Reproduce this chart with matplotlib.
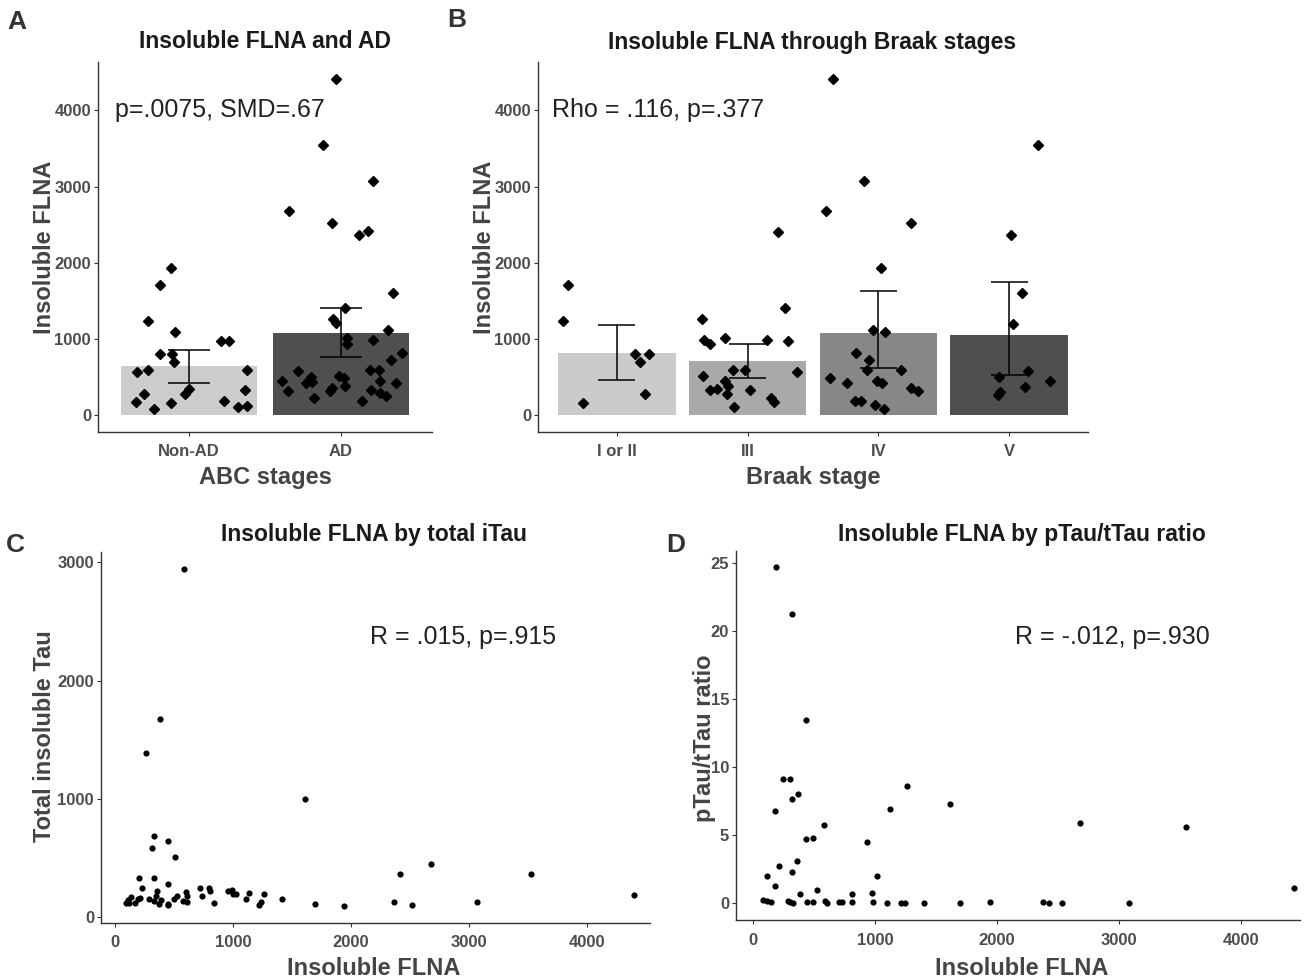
import matplotlib
matplotlib.use("Agg")
import matplotlib.pyplot as plt

plt.rcParams['font.family'] = ['Liberation Sans', 'DejaVu Sans']

# ---- panel A: insoluble FLNA by ABC stage ----
abc_groups = ['Non-AD', 'AD']
abc_means = [643, 1080]
abc_lo = [424, 761]
abc_hi = [857, 1403]
abc_colors = ['#cccccc', '#4f4f4f']

nonad_jit = [-0.12, -0.19, -0.27, -0.09, -0.19, -0.11, -0.10, -0.34, -0.27, 0.21, 0.26,
             0.38, -0.30, -0.35, -0.23, -0.12, -0.03, 0.0, 0.23, 0.32, 0.38, 0.37]
nonad_val = [1937, 1705, 1233, 1093, 809, 809, 699, 568, 599, 975, 975,
             599, 284, 166, 79, 153, 284, 337, 184, 105, 122, 328]
ad_jit = [-0.03, -0.12, 0.21, -0.34, -0.06, 0.12, 0.18, 0.34, 0.03, -0.05, -0.03, 0.31, 0.04,
          0.04, 0.21, 0.40, 0.33, -0.28, -0.39, -0.20, -0.23, -0.19, -0.35, -0.18, -0.06,
          -0.07, -0.01, 0.02, 0.03, 0.19, 0.25, 0.26, 0.36, 0.20, 0.26, 0.30, 0.14]
ad_val = [4415, 3541, 3069, 2680, 2522, 2361, 2413, 1604, 1408, 1268, 1211, 1115, 1019,
          931, 984, 822, 730, 577, 446, 503, 424, 437, 319, 219, 358,
          319, 511, 490, 380, 590, 590, 446, 428, 328, 297, 254, 184]

# ---- panel B: insoluble FLNA by Braak stage ----
braak_groups = ['I or II', 'III', 'IV', 'V']
braak_means = [822, 708, 1080, 1049]
braak_lo = [459, 494, 625, 525]
braak_hi = [1180, 940, 1631, 1749]
braak_colors = ['#cbcbcb', '#a9a9a9', '#878787', '#4f4f4f']

b1_jit = [-0.37, -0.41, 0.14, 0.25, 0.18, -0.26, 0.22]
b1_val = [1705, 1233, 800, 809, 699, 153, 284]
b3_jit = [0.23, 0.29, -0.35, -0.33, -0.29, -0.17, 0.15, 0.31, 0.38, -0.11, -0.02,
          -0.34, -0.17, -0.15, -0.29, -0.23, -0.16, 0.02, 0.18, 0.20, -0.10]
b3_val = [2404, 1408, 1259, 984, 940, 1019, 984, 975, 568, 590, 599,
          511, 446, 385, 328, 341, 284, 328, 219, 175, 109]
b4_jit = [-0.35, -0.11, -0.40, 0.25, 0.02, -0.04, 0.05, -0.17, -0.07, -0.09, 0.17,
          -0.37, -0.24, -0.01, 0.03, 0.25, 0.30, -0.18, -0.13, -0.03, 0.04]
b4_val = [4415, 3069, 2680, 2522, 1937, 1115, 1093, 822, 730, 590, 599,
          490, 428, 446, 428, 358, 319, 184, 184, 131, 79]
b5_jit = [0.22, 0.01, 0.10, 0.03, 0.14, -0.08, 0.31, 0.12, -0.07, -0.09]
b5_val = [3541, 2361, 1604, 1202, 577, 503, 446, 372, 306, 262]

# ---- panel C: FLNA vs total insoluble tau ----
c_flna = [584, 377, 265, 1614, 334, 453, 312, 508, 2680, 2415, 3529, 4399, 199, 334,
          228, 453, 355, 345, 290, 326, 392, 373, 453, 446, 500, 529, 602, 609, 573,
          609, 718, 736, 799, 805, 838, 954, 990, 997, 1026, 1106, 1135, 1218, 1240,
          1262, 1414, 1697, 1937, 2368, 2520, 3068, 91, 120, 138, 167, 192, 210, 112]
c_tau = [2944, 1676, 1389, 1000, 685, 642, 586, 510, 445, 361, 361, 186, 327, 327,
         242, 282, 220, 177, 149, 135, 141, 113, 101, 107, 155, 177, 214, 177, 135,
         130, 242, 177, 242, 220, 121, 220, 225, 192, 192, 149, 206, 101, 130,
         197, 149, 113, 93, 130, 101, 130, 121, 121, 169, 121, 149, 163, 141]

# ---- panel D: FLNA vs pTau/tTau ratio ----
d_flna = [188, 320, 438, 247, 303, 369, 320, 181, 581, 438, 494, 939, 1263, 1123, 1617,
          2685, 3548, 4438, 216, 118, 323, 362, 177, 522, 390, 810, 977, 1019, 83, 118,
          146, 285, 303, 330, 442, 490, 591, 609, 703, 727, 810, 988, 1103, 1214, 1245,
          1405, 1701, 1941, 2376, 2424, 2536, 3082]
d_ratio = [24.7, 21.3, 13.5, 9.1, 9.1, 8.0, 7.7, 6.8, 5.75, 4.7, 4.8, 4.5, 8.6, 6.9, 7.3,
           5.9, 5.6, 1.1, 2.77, 1.98, 2.28, 3.09, 1.25, 1.0, 0.69, 0.69, 0.76, 1.98, 0.24,
           0.15, 0.07, 0.2, 0.07, 0.02, 0.12, 0.12, 0.2, 0.02, 0.12, 0.12, 0.07, 0.07, 0.0,
           0.0, 0.0, 0.02, 0.0, 0.07, 0.07, 0.0, 0.0, 0.0]

AXIS_COL = '#333333'
TICK_COL = '#4d4d4d'
LABEL_COL = '#444444'


def style_axes(ax):
    for side in ['top', 'right']:
        ax.spines[side].set_visible(False)
    for side in ['left', 'bottom']:
        ax.spines[side].set_color(AXIS_COL)
        ax.spines[side].set_linewidth(1.0)
    ax.tick_params(length=3, width=0.8, color=AXIS_COL, labelcolor=TICK_COL, labelsize=12)
    ax.tick_params(axis='x', pad=6)
    ax.tick_params(axis='y', pad=2)
    for lbl in ax.get_xticklabels() + ax.get_yticklabels():
        lbl.set_fontweight('bold')


def bar_panel(ax, groups, means, lo, hi, colors, points):
    pos = list(range(len(groups)))
    ax.bar(pos, means, width=0.9, color=colors, zorder=1)
    ax.vlines(pos, lo, hi, color='black', lw=1.1, zorder=2)
    cap = 0.14
    for p, l, h in zip(pos, lo, hi):
        ax.hlines([l, h], p - cap, p + cap, color='black', lw=1.1, zorder=2)
    for p, (jit, vals) in zip(pos, points):
        ax.plot([p + j for j in jit], vals, 'D', color='black', ms=5, zorder=3)
    ax.set_xticks(pos)
    ax.set_xticklabels(groups)
    ax.set_yticks([0, 1000, 2000, 3000, 4000])
    ax.set_xlim(-0.6, len(groups) - 0.4)
    ax.set_ylim(-221, 4636)


def labels(ax, xlab, ylab, xpos, ypos):
    ax.set_xlabel(xlab, fontsize=17, fontweight='bold', color=LABEL_COL)
    ax.set_ylabel(ylab, fontsize=17, fontweight='bold', color=LABEL_COL)
    ax.xaxis.set_label_coords(*xpos)
    ax.yaxis.set_label_coords(*ypos)


fig = plt.figure(figsize=(13.1, 9.8), dpi=100)

axA = fig.add_axes([0.0748, 0.5592, 0.255, 0.3776])
bar_panel(axA, abc_groups, abc_means, abc_lo, abc_hi, abc_colors,
          [(nonad_jit, nonad_val), (ad_jit, ad_val)])
axA.text(-0.487, 4000, 'p=.0075, SMD=.67', fontsize=18, va='center', ha='left', color='#222222')
labels(axA, 'ABC stages', 'Insoluble FLNA', (0.5, -0.092), (-0.126, 0.5))
style_axes(axA)

axB = fig.add_axes([0.4107, 0.5592, 0.4198, 0.3776])
bar_panel(axB, braak_groups, braak_means, braak_lo, braak_hi, braak_colors,
          [(b1_jit, b1_val), (b3_jit, b3_val), (b4_jit, b4_val), (b5_jit, b5_val)])
axB.text(-0.496, 4000, 'Rho = .116, p=.377', fontsize=18, va='center', ha='left', color='#222222')
labels(axB, 'Braak stage', 'Insoluble FLNA', (0.5, -0.092), (-0.076, 0.5))
style_axes(axB)

axC = fig.add_axes([0.0771, 0.0582, 0.4191, 0.3786])
axC.scatter(c_flna, c_tau, s=20, color='black', linewidths=0)
axC.set_xlim(-119, 4534)
axC.set_ylim(-50, 3087)
axC.set_xticks([0, 1000, 2000, 3000, 4000])
axC.set_yticks([0, 1000, 2000, 3000])
axC.text(2161, 2367, 'R = .015, p=.915', fontsize=18, va='center', ha='left', color='#222222')
labels(axC, 'Insoluble FLNA', 'Total insoluble Tau', (0.497, -0.092), (-0.082, 0.504))
style_axes(axC)

axD = fig.add_axes([0.5618, 0.0612, 0.4305, 0.3765])
axD.scatter(d_flna, d_ratio, s=20, color='black', linewidths=0)
axD.set_xlim(-139, 4484)
axD.set_ylim(-1.235, 25.9)
axD.set_xticks([0, 1000, 2000, 3000, 4000])
axD.set_yticks([0, 5, 10, 15, 20, 25])
axD.text(2148, 19.6, 'R = -.012, p=.930', fontsize=18, va='center', ha='left', color='#222222')
labels(axD, 'Insoluble FLNA', 'pTau/tTau ratio', (0.507, -0.1), (-0.0355, 0.493))
style_axes(axD)

# panel titles and letters
titles = [('Insoluble FLNA and AD', 265, 42), ('Insoluble FLNA through Braak stages', 812, 42),
          ('Insoluble FLNA by total iTau', 374, 535), ('Insoluble FLNA by pTau/tTau ratio', 1022, 535)]
for txt, x, y in titles:
    fig.text(x / 1310, 1 - y / 980, txt, fontsize=16.5, fontweight='bold', ha='center', va='center',
             color='#1a1a1a')

letters = [('A', 17, 22), ('B', 457, 20), ('C', 15, 545), ('D', 676, 545)]
for txt, x, y in letters:
    fig.text(x / 1310, 1 - y / 980, txt, fontsize=19, fontweight='bold', ha='center', va='center',
             color='#333333')

fig.savefig('out.png', dpi=100)
